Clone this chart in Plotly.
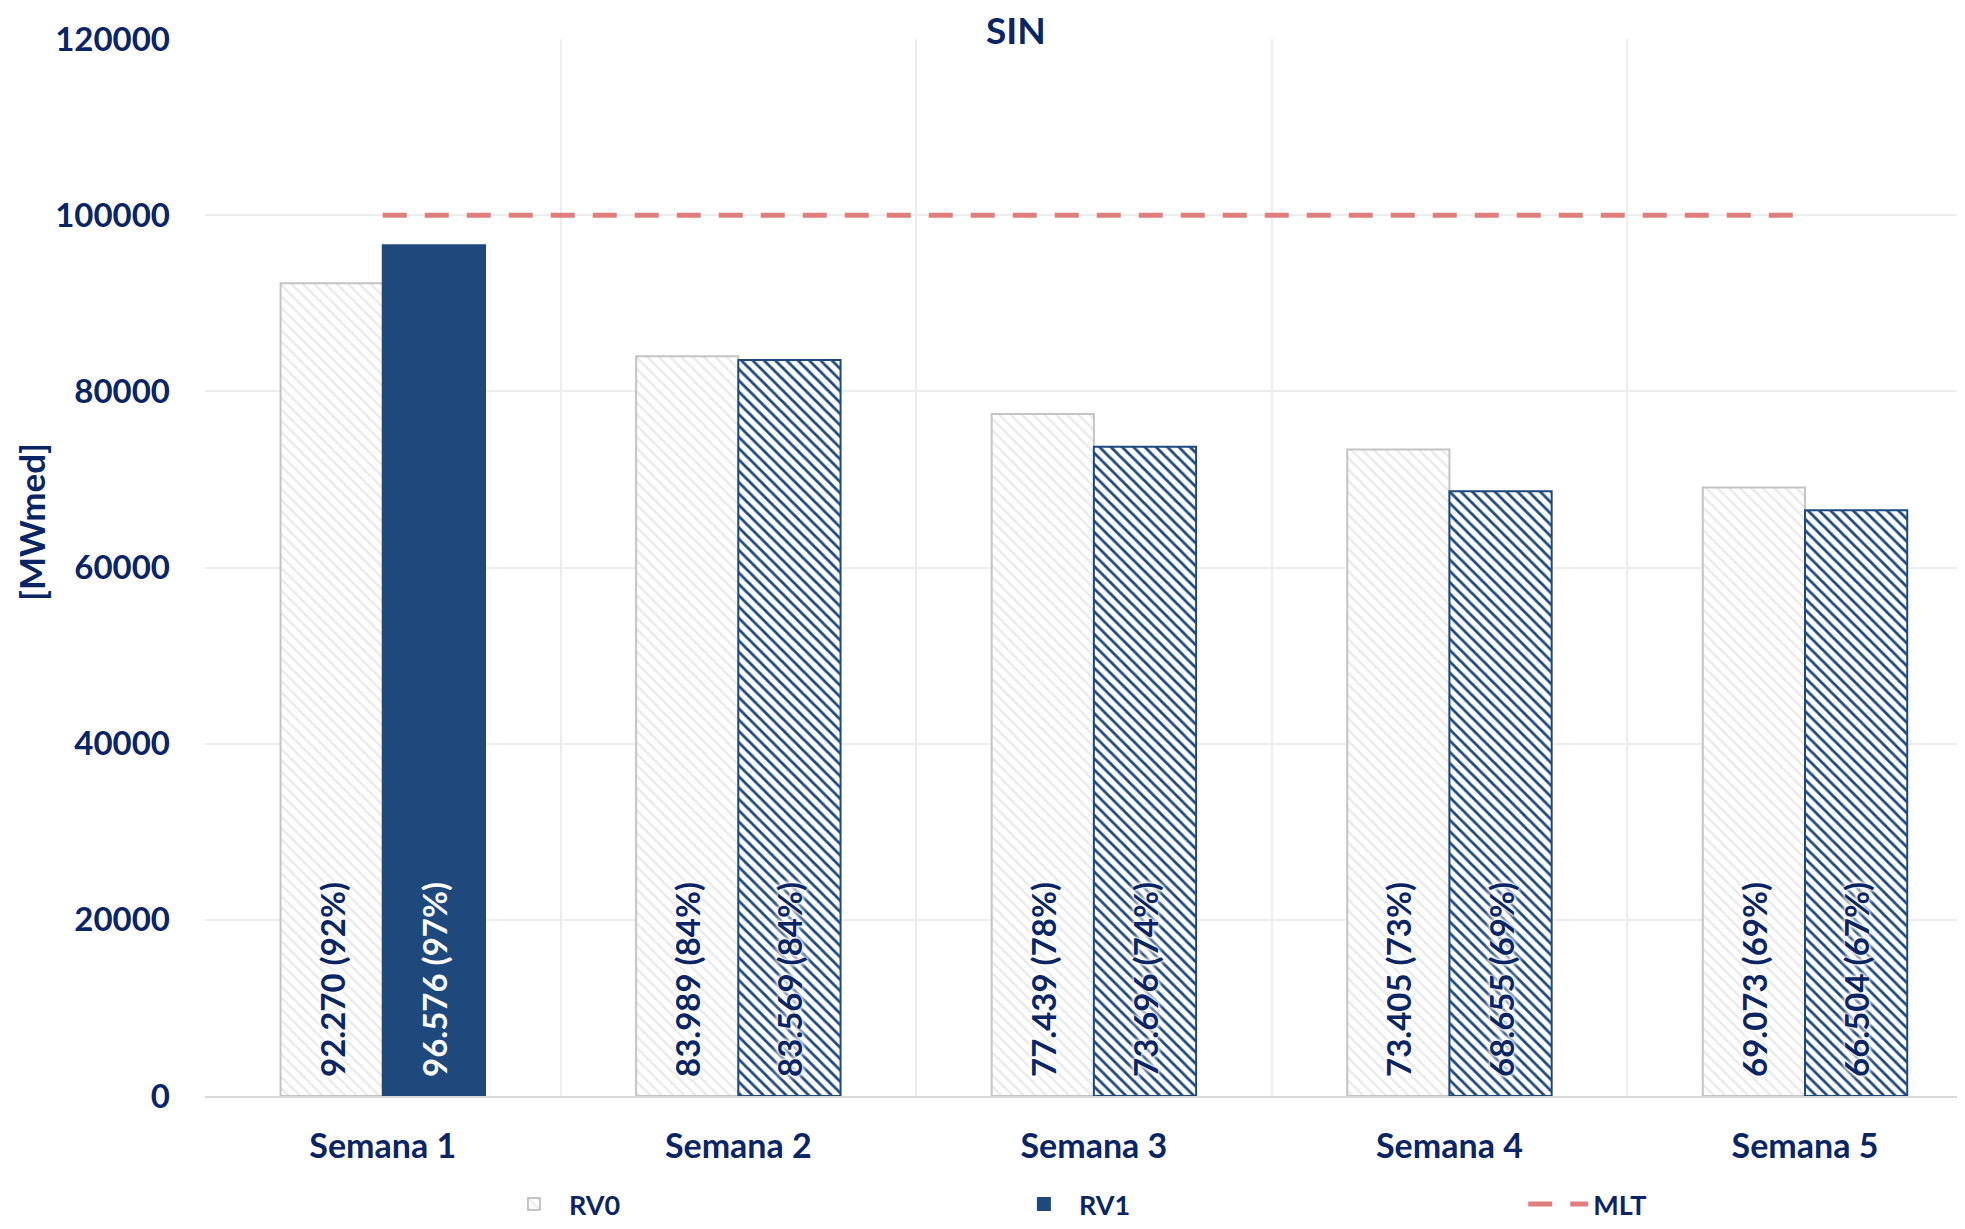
import plotly.graph_objects as go

categories = ["Semana 1", "Semana 2", "Semana 3", "Semana 4", "Semana 5"]
rv0 = [92270, 83989, 77439, 73405, 69073]
rv0_pct = [92, 84, 78, 73, 69]
rv1 = [96576, 83569, 73696, 68655, 66504]
rv1_pct = [97, 84, 74, 69, 67]
mlt = [100000, 100000, 100000, 100000, 100000]
y_ticks = [0, 20000, 40000, 60000, 80000, 100000, 120000]

NAVY = "#0B2463"
BLUE = "#1F497D"
FONT = "Lato"
GLOW = "0px 0px 2px white, 0px 0px 4px white, 0px 0px 5px white, 0px 0px 6px white"


def fmt(v, p):
    s = f"{v:,}".replace(",", ".")
    return f"\u00a0\u00a0{s} ({p}%)"


rv0_text = [fmt(v, p) for v, p in zip(rv0, rv0_pct)]
rv1_text = [fmt(v, p) for v, p in zip(rv1, rv1_pct)]

fig = go.Figure()
fig.add_trace(go.Bar(
    name="RV0", x=categories, y=rv0, text=rv0_text,
    textposition="inside", insidetextanchor="start", textangle=-90,
    textfont=dict(family=FONT, size=33, color=NAVY, weight="bold", shadow=GLOW),
    marker=dict(color="white", line=dict(color="#C4C4C4", width=2),
                pattern=dict(shape="\\", fgcolor="#D4D4D4", bgcolor="white",
                             size=8, solidity=0.3)),
))
fig.add_trace(go.Bar(
    name="RV1", x=categories, y=rv1, text=rv1_text,
    textposition="inside", insidetextanchor="start", textangle=-90,
    textfont=dict(family=FONT, size=33,
                  color=["white", NAVY, NAVY, NAVY, NAVY], weight="bold",
                  shadow=["none", GLOW, GLOW, GLOW, GLOW]),
    marker=dict(color=BLUE, line=dict(color=BLUE, width=2),
                pattern=dict(shape=["", "\\", "\\", "\\", "\\"], fgcolor=BLUE,
                             bgcolor="white", size=8, solidity=0.35,
                             fillmode="replace")),
))
fig.add_trace(go.Scatter(
    name="MLT", x=categories, y=mlt, mode="lines", legend="legend2",
    line=dict(color="#E07E7E", width=5, dash="24px,18px"),
))

legend_font = dict(family=FONT, size=27, color=NAVY, weight="bold")
# page body has an 8px default margin: figure is sized so the plot area lands
# at the reference position inside the 1965x1229 window
fig.update_layout(
    width=1957, height=1221,
    margin=dict(l=197, r=0, t=31, b=133, autoexpand=False),
    paper_bgcolor="white", plot_bgcolor="white",
    barmode="group", bargap=0.425, bargroupgap=0,
    font=dict(family=FONT, color=NAVY),
    title=dict(text="<b>SIN</b>", x=0.515, xref="container", xanchor="center",
               y=0.981, yref="container", yanchor="middle",
               font=dict(family=FONT, size=37, color=NAVY)),
    legend=dict(orientation="h", x=0.167, xanchor="left", y=-0.1258, yanchor="bottom",
                entrywidth=435, entrywidthmode="pixels", itemwidth=60,
                font=legend_font, traceorder="normal", borderwidth=0),
    legend2=dict(orientation="h", x=0.749, xanchor="left", y=-0.1258, yanchor="bottom",
                 itemwidth=60, font=legend_font, borderwidth=0),
    showlegend=True,
    annotations=[dict(text="<b>[MWmed]</b>", textangle=-90, xref="paper", yref="paper",
                      x=-0.0989, y=0.543, xanchor="center", yanchor="middle",
                      showarrow=False, font=dict(family=FONT, size=35, color=NAVY))],
)
fig.update_xaxes(
    range=[-0.5, 4.45], tickson="boundaries", showgrid=True, gridcolor="#EDEDED",
    gridwidth=2, showline=True, linecolor="#D9D9D9", linewidth=2, ticks="",
    tickfont=dict(family=FONT, size=34, color=NAVY, weight="bold"),
    ticklabelstandoff=19, zeroline=False,
)
fig.update_yaxes(
    range=[0, 120000], tickvals=y_ticks, ticktext=[str(t) for t in y_ticks],
    showgrid=True, gridcolor="#EDEDED", gridwidth=2, zeroline=False,
    tickfont=dict(family=FONT, size=33, color=NAVY, weight="bold"),
    ticklabelstandoff=34,
)

fig.write_html("out.html")
